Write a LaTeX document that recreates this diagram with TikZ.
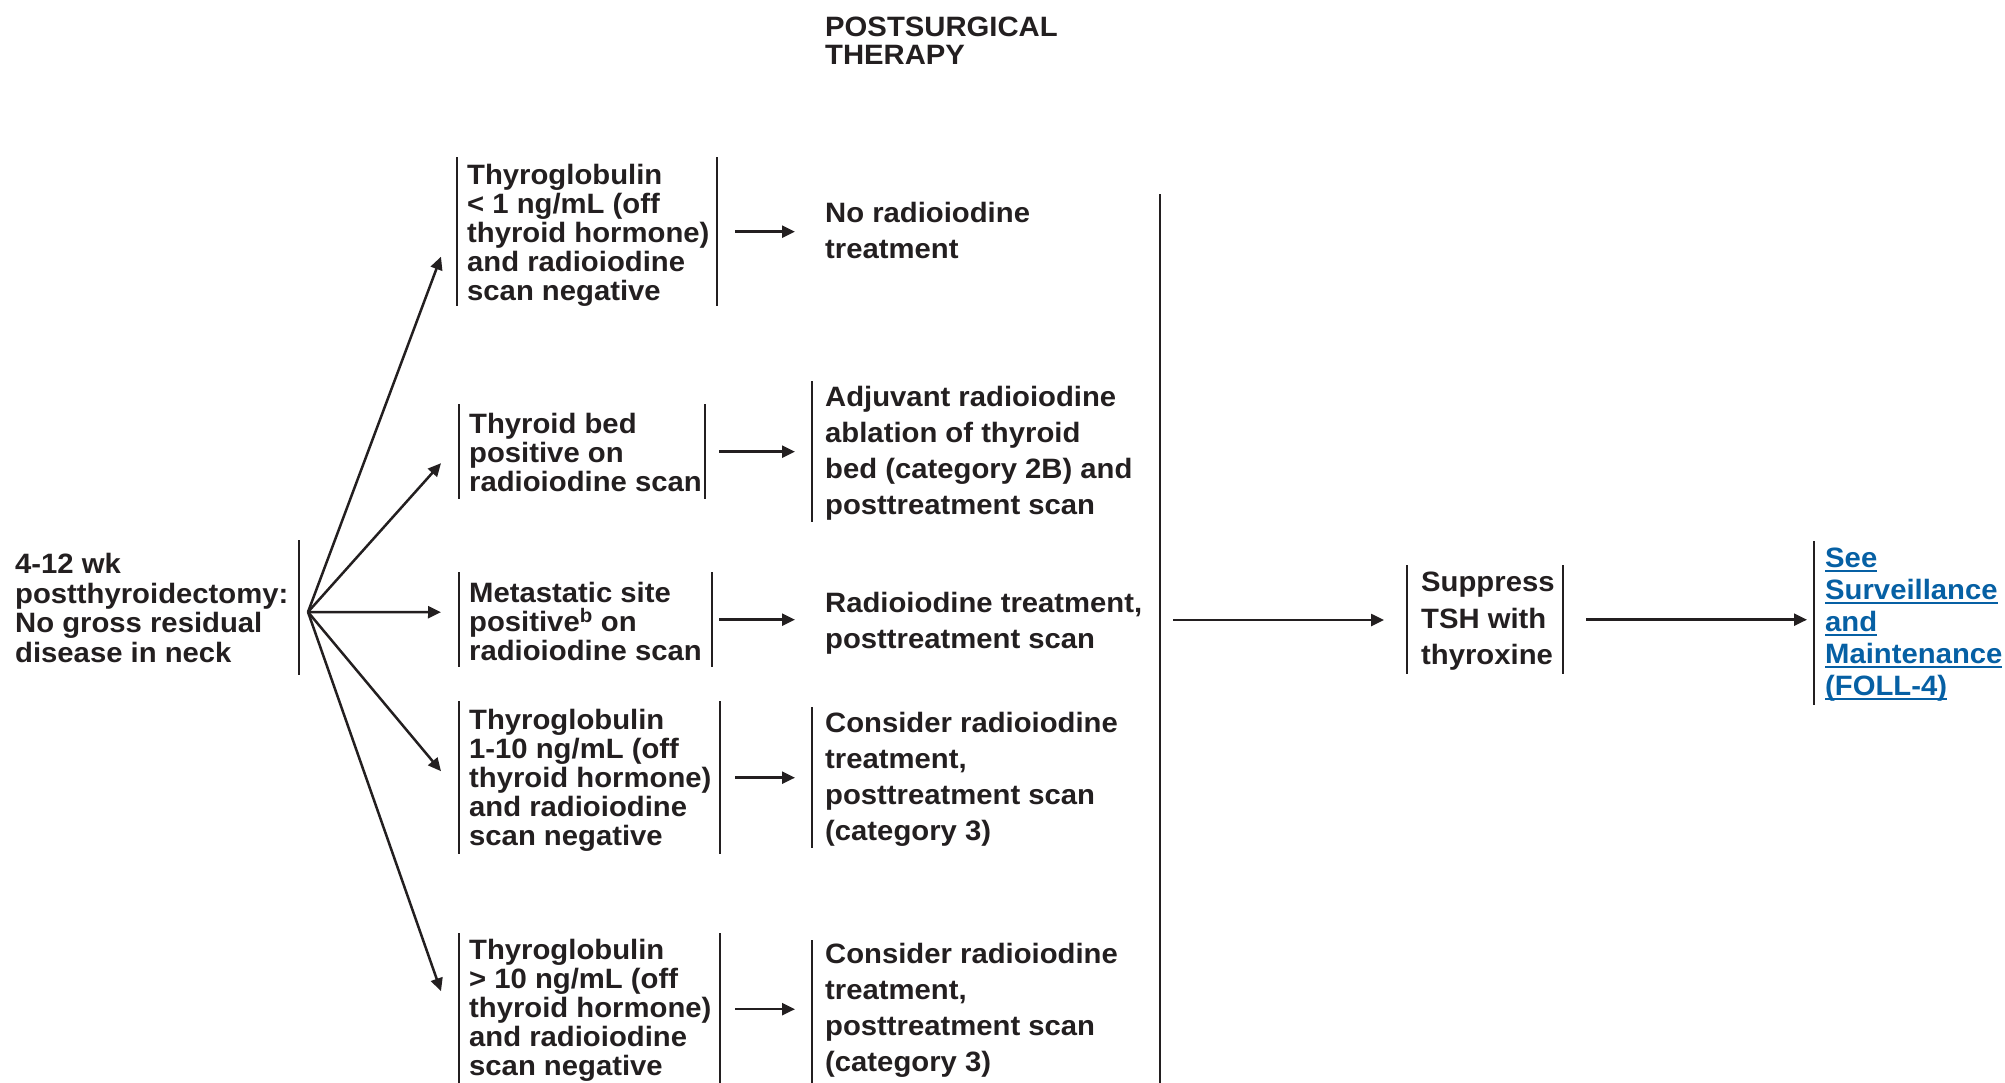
\documentclass[tikz,border=0pt]{standalone}
\usepackage{fontspec}
\setmainfont{Liberation Sans}[FakeStretch=1.045]
\usetikzlibrary{arrows.meta}
\definecolor{ink}{HTML}{231F20}
\definecolor{linkblue}{RGB}{6,96,164}
% invisible struts fixing the height above the first baseline and the depth below the last
\newcommand\tstrut[1]{\rule{0pt}{#1pt}}
\newcommand\bstrut[1]{\rule[-#1pt]{0pt}{#1pt}}
% underlined link text
\newsavebox\lnkbox
\newcommand\lnk[1]{\sbox\lnkbox{#1}\rlap{\rule[-4.5pt]{\wd\lnkbox}{2pt}}\usebox\lnkbox}
\tikzset{
  lbl/.style={align=left, text=ink, inner ysep=0pt, anchor=north west},
  boxtxt/.style={lbl, inner xsep=10pt, font=\bfseries\fontsize{28}{29}\selectfont},
  restxt/.style={lbl, inner xsep=13pt, font=\bfseries\fontsize{28}{36}\selectfont},
  bar/.style={draw=ink, line width=2.6pt},
  arr/.style={draw=ink, line width=2.5pt, -{Triangle[length=13pt,width=12pt]}},
}
\begin{document}
\begin{tikzpicture}[x=1pt,y=-1pt]
\path[use as bounding box] (0,0) rectangle (2005,1082);
\clip (0,0) rectangle (2005,1082);

% heading
\node[lbl, inner xsep=0pt, font=\bfseries\fontsize{28}{28}\selectfont] (title) at (825,14)
  {\tstrut{22}POSTSURGICAL\\THERAPY};

% starting situation
\node[lbl, inner xsep=0pt, font=\bfseries\fontsize{28}{29.5}\selectfont] (start) at (15,540)
  {\tstrut{33.5}4-12 wk\\postthyroidectomy:\\No gross residual\\disease in neck\bstrut{13}};
\draw[bar] ([xshift=284pt]start.north west) -- ([xshift=284pt]start.south west);
\coordinate (fan) at (308,612);

% findings
\node[boxtxt] (b1) at (457,157)
  {\tstrut{27}Thyroglobulin\\< 1 ng/mL (off\\thyroid hormone)\\and radioiodine\\scan negative\bstrut{5}};
\node[boxtxt] (b2) at (459,404)
  {\tstrut{29}Thyroid bed\\positive on\\radioiodine scan\bstrut{8}};
\node[boxtxt] (b3) at (459,572)
  {\tstrut{30.5}Metastatic site\\positive\textsuperscript{b} on\\radioiodine scan\bstrut{6.5}};
\node[boxtxt] (b4) at (459,701)
  {\tstrut{28.5}Thyroglobulin\\1-10 ng/mL (off\\thyroid hormone)\\and radioiodine\\scan negative\bstrut{8.5}};
\node[boxtxt] (b5) at (459,933)
  {\tstrut{26.5}Thyroglobulin\\> 10 ng/mL (off\\thyroid hormone)\\and radioiodine\\scan negative\bstrut{9.5}};

\draw[bar] (b1.north west) -- (b1.south west) ([xshift=260pt]b1.north west) -- ([xshift=260pt]b1.south west);
\draw[bar] (b2.north west) -- (b2.south west) ([xshift=246pt]b2.north west) -- ([xshift=246pt]b2.south west);
\draw[bar] (b3.north west) -- (b3.south west) ([xshift=253pt]b3.north west) -- ([xshift=253pt]b3.south west);
\draw[bar] (b4.north west) -- (b4.south west) ([xshift=261pt]b4.north west) -- ([xshift=261pt]b4.south west);
\draw[bar] (b5.north west) -- (b5.south west) ([xshift=261pt]b5.north west) -- ([xshift=261pt]b5.south west);

% treatments
\node[restxt] (r1) at (812,200)
  {\tstrut{22.5}No radioiodine\\treatment};
\node[restxt] (r2) at (812,381)
  {\tstrut{25.5}Adjuvant radioiodine\\ablation of thyroid\\bed (category 2B) and\\posttreatment scan\bstrut{7.5}};
\node[restxt] (r3) at (812,590)
  {\tstrut{22.5}Radioiodine treatment,\\posttreatment scan};
\node[restxt] (r4) at (812,707)
  {\tstrut{25.5}Consider radioiodine\\treatment,\\posttreatment scan\\(category 3)\bstrut{7.5}};
\node[restxt] (r5) at (812,940)
  {\tstrut{23.5}Consider radioiodine\\treatment,\\posttreatment scan\\(category 3)\bstrut{20}};
\draw[bar] (r2.north west) -- (r2.south west);
\draw[bar] (r4.north west) -- (r4.south west);
\draw[bar] (r5.north west) -- (r5.south west);

% fan of branches
\draw[arr] (fan) -- ([shift={(-16,25)}]b1.west);
\draw[arr] (fan) -- ([shift={(-18,11.5)}]b2.west);
\draw[arr] (fan) -- ([shift={(-18,-7.5)}]b3.west);
\draw[arr] (fan) -- ([shift={(-18,-6.5)}]b4.west);
\draw[arr] (fan) -- ([shift={(-18,-18)}]b5.west);

% finding -> treatment
\draw[arr, shorten >=17pt] ([xshift=278pt]b1.west) -- (b1.west -| r1.west);
\draw[arr, shorten >=17pt] ([xshift=260pt]b2.west) -- (b2.west -| r2.west);
\draw[arr, shorten >=17pt] ([xshift=260pt]b3.west) -- (b3.west -| r3.west);
\draw[arr, shorten >=17pt] ([xshift=276pt]b4.west) -- (b4.west -| r4.west);
\draw[arr, shorten >=17pt] ([xshift=276pt]b5.west) -- (b5.west -| r5.west);

% joining line
\coordinate (mtop) at (1160,194);
\coordinate (mbot) at (1160,1090);
\coordinate (merge) at (1160,620);
\draw[bar] (mtop) -- (mbot);

% follow-up
\node[lbl, inner xsep=14pt, font=\bfseries\fontsize{28}{36.5}\selectfont] (sup) at (1407,565)
  {\tstrut{26.5}Suppress\\TSH with\\thyroxine\bstrut{9.5}};
\draw[bar] (sup.north west) -- (sup.south west) ([xshift=156pt]sup.north west) -- ([xshift=156pt]sup.south west);

\node[lbl, inner xsep=11pt, text=linkblue, font=\bfseries\fontsize{28}{32}\selectfont] (link) at (1814,541)
  {\tstrut{26.5}\lnk{See}\\\lnk{Surveillance}\\\lnk{and}\\\lnk{Maintenance}\\\lnk{(FOLL-4)}\bstrut{9.5}};
\draw[bar] (link.north west) -- (link.south west);

\draw[arr, shorten >=23pt] ([xshift=13pt]merge) -- (merge -| sup.west);
\draw[arr, shorten >=7pt] ([xshift=179pt]sup.west) -- (sup.west -| link.west);
\end{tikzpicture}
\end{document}
